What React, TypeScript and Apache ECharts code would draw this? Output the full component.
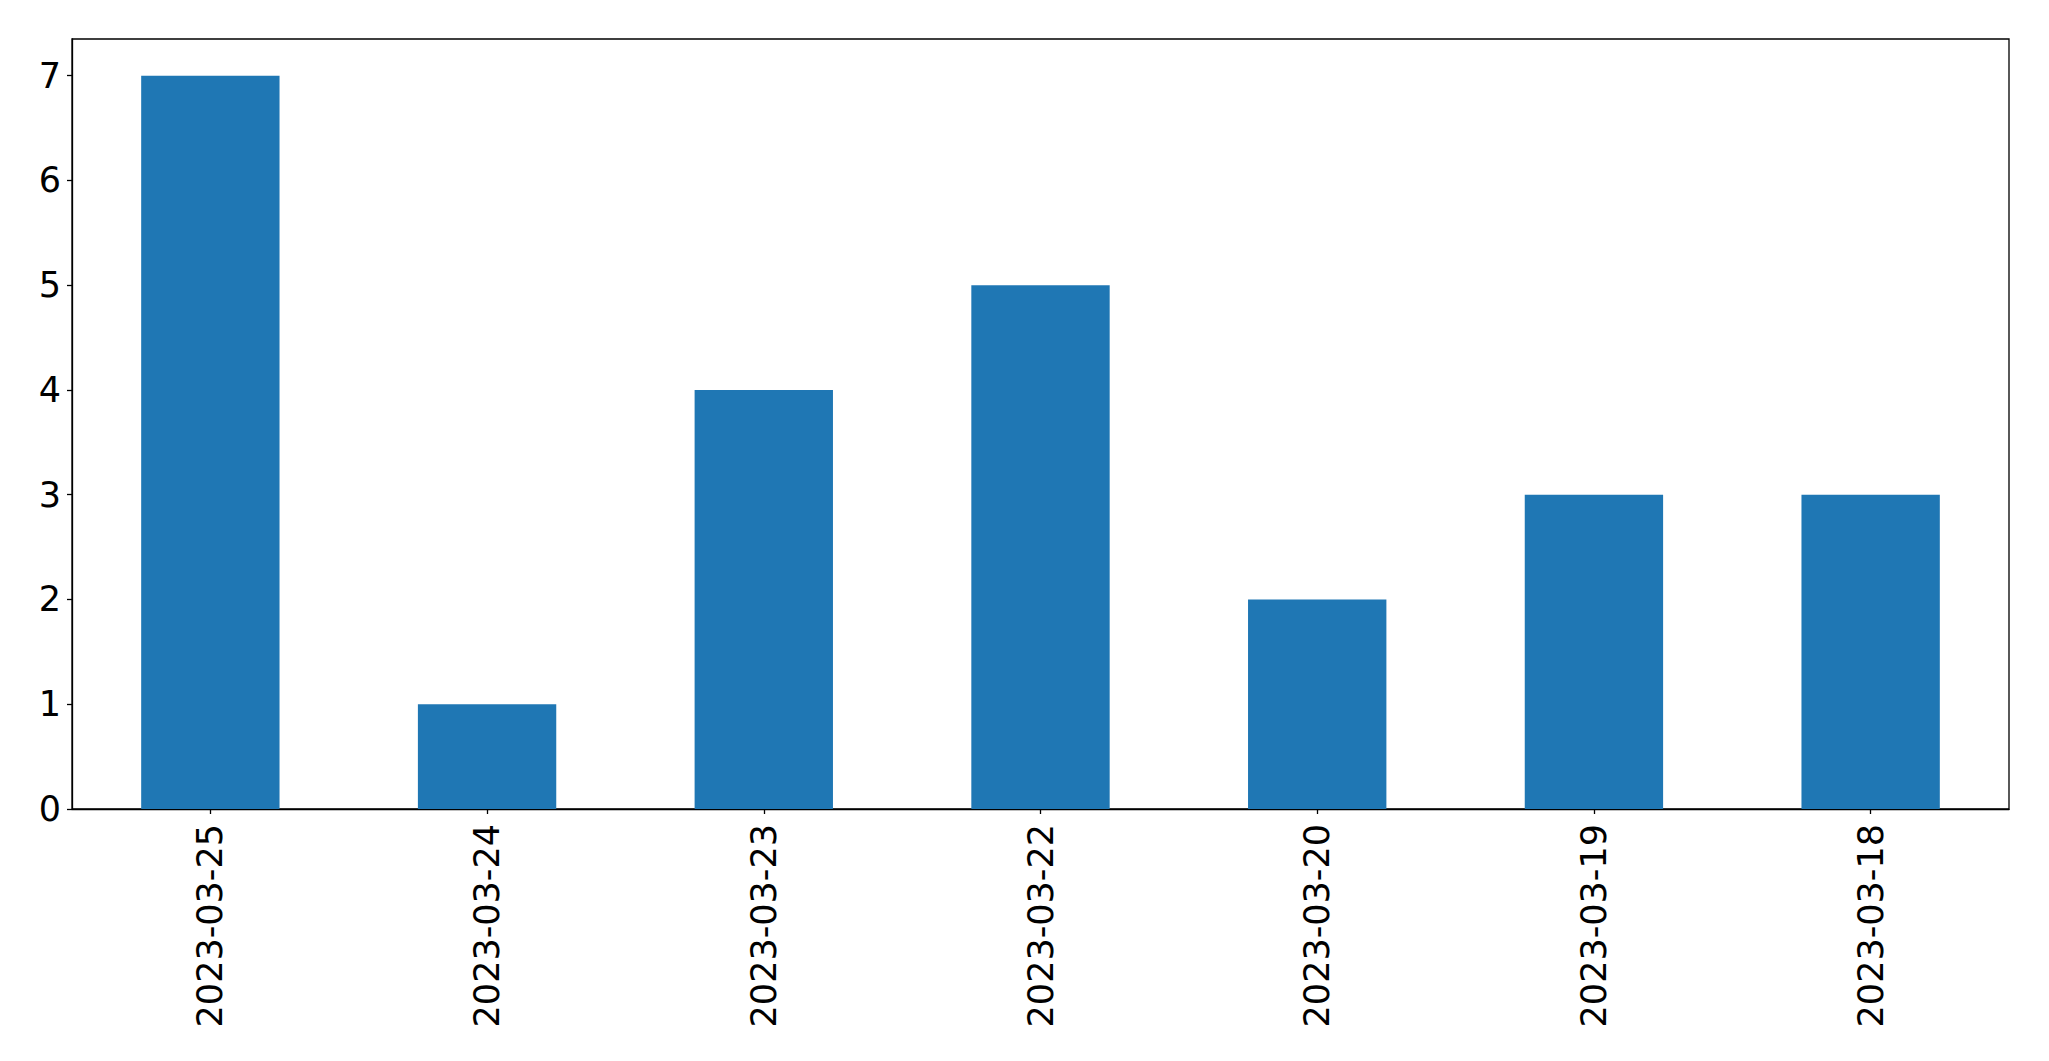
import React, { useEffect, useRef } from "react";
import * as echarts from "echarts";

const categories = ["2023-03-25", "2023-03-24", "2023-03-23", "2023-03-22", "2023-03-20", "2023-03-19", "2023-03-18"];
const values = [7, 1, 4, 5, 2, 3, 3];

export default function App() {
  const ref = useRef<HTMLDivElement>(null);
  useEffect(() => {
    const chart = echarts.init(ref.current!, null, { renderer: "svg" });
    const font = "'DejaVu Sans', sans-serif";
    chart.setOption({
      animation: false,
      backgroundColor: "#ffffff",
      grid: {
        left: 72,
        top: 39,
        right: 40,
        bottom: 252,
        show: true,
        borderColor: "#000000",
        borderWidth: 1.3,
        containLabel: false,
      },
      xAxis: {
        type: "category",
        data: categories,
        boundaryGap: true,
        axisLine: { show: true, lineStyle: { color: "#000000", width: 1.3 } },
        axisTick: { show: true, alignWithLabel: true, length: 5, lineStyle: { color: "#000000", width: 1.3 } },
        axisLabel: { rotate: 90, margin: 15, fontSize: 35, color: "#000000", fontFamily: font, interval: 0 },
        splitLine: { show: false },
      },
      yAxis: {
        type: "value",
        min: 0,
        max: 7.35,
        interval: 1,
        axisLine: { show: true, lineStyle: { color: "#000000", width: 1.3 } },
        axisTick: { show: true, length: 5, lineStyle: { color: "#000000", width: 1.3 } },
        axisLabel: {
          margin: 11,
          fontSize: 35,
          color: "#000000",
          fontFamily: font,
          showMaxLabel: false,
          formatter: (v: number) => (Number.isInteger(v) ? String(v) : ""),
        },
        splitLine: { show: false },
      },
      series: [
        {
          type: "bar",
          data: values,
          barWidth: "50%",
          itemStyle: { color: "#1f77b4" },
        },
      ],
    });
    return () => chart.dispose();
  }, []);
  return <div ref={ref} style={{ position: "fixed", left: 0, top: 0, width: 2049, height: 1061 }} />;
}
